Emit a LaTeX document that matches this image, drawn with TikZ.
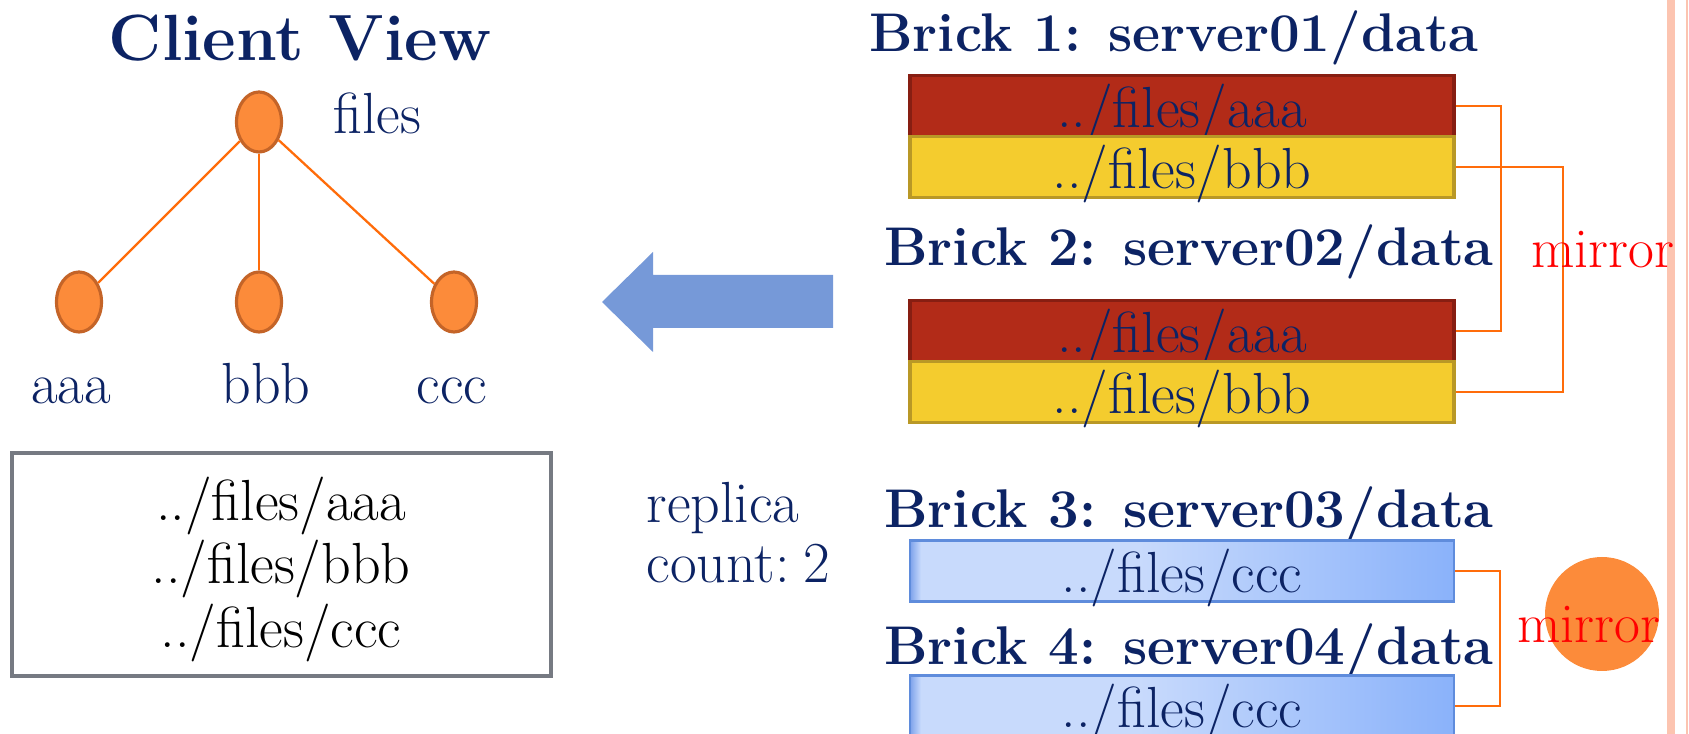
\documentclass[tikz,border=0pt]{standalone}
\usepackage{fontspec}
\usetikzlibrary{shapes.geometric}

\definecolor{navy}{RGB}{12,35,100}
\definecolor{wire}{RGB}{255,108,10}
\definecolor{leaffill}{RGB}{252,139,58}
\definecolor{leafline}{RGB}{196,100,40}
\definecolor{redfill}{RGB}{178,43,24}
\definecolor{redline}{RGB}{135,30,18}
\definecolor{yelfill}{RGB}{244,204,46}
\definecolor{yelline}{RGB}{185,152,38}
\definecolor{brickedge}{RGB}{125,162,235}
\definecolor{bricklight}{RGB}{200,218,252}
\definecolor{brickdark}{RGB}{138,178,250}
\definecolor{blueline}{RGB}{95,140,220}
\definecolor{arrowblue}{RGB}{118,153,216}
\definecolor{boxgray}{RGB}{118,122,130}
\definecolor{pinkbar}{RGB}{252,196,176}

\pgfdeclarehorizontalshading{brickshade}{100bp}{color(0bp)=(brickedge); color(25bp)=(brickedge); color(26bp)=(bricklight); color(46bp)=(bricklight); color(75bp)=(brickdark); color(100bp)=(brickdark)}

\newcommand{\txt}{\fontsize{16.5}{20}\selectfont}
\newcommand{\boldtxt}{\fontsize{15.5}{19}\selectfont\bfseries}

\begin{document}
\begin{tikzpicture}[
		leaf/.style={ellipse, draw=leafline, line width=0.9pt, fill=leaffill, minimum width=0.45cm, minimum height=0.6cm, inner sep=0pt},
		branch/.style={draw=wire, line width=0.65pt},
		brickbox/.style={rectangle, minimum width=5.44cm, minimum height=0.61cm, inner sep=0pt, text height=12pt, text depth=0pt, text=navy, font=\txt},
		redbox/.style={brickbox, fill=redfill, draw=redline, line width=1pt},
		yelbox/.style={brickbox, fill=yelfill, draw=yelline, line width=1pt},
		bluebox/.style={brickbox, shading=brickshade, draw=blueline, line width=0.7pt},
		bricklabel/.style={anchor=base, inner sep=0pt, text=navy, font=\boldtxt},
		plain/.style={anchor=base, inner sep=0pt, text=navy, font=\txt},
		mirrorline/.style={draw=wire, line width=0.7pt},
		mirrortext/.style={anchor=base, inner sep=0pt, text=red, font=\fontsize{16}{19}\selectfont}
	]
		\clip (0,0) rectangle (16.89,-7.34);
		
		% Page edge
		\fill[pinkbar] (16.67,0) rectangle (16.75,-7.34);
		\draw[pinkbar, line width=0.5pt] (16.87,0) -- (16.87,-7.34);
		
		% Client view tree
		\node[anchor=base, inner sep=0pt, text=navy, font=\fontsize{18.6}{22}\selectfont\bfseries] (title) at (3.00,-0.61) {Client View};
		\node[leaf] (files) at (2.59,-1.22) {};
		\node[leaf] (aaa) at (0.79,-3.02) {};
		\node[leaf] (bbb) at (2.59,-3.02) {};
		\node[leaf] (ccc) at (4.54,-3.02) {};
		\draw[branch] (files) -- (aaa);
		\draw[branch] (files) -- (bbb);
		\draw[branch] (files) -- (ccc);
		\node[plain] (fileslbl) at (3.77,-1.34) {files};
		\node[plain] (aaalbl) at (0.71,-4.04) {aaa};
		\node[plain] (bbblbl) at (2.66,-4.04) {bbb};
		\node[plain] (ccclbl) at (4.52,-4.04) {ccc};
		
		% Merged listing
		\node[draw=boxgray, line width=1.1pt, minimum width=5.39cm, minimum height=2.23cm] (view) at (2.815,-5.645) {};
		\node[anchor=base, inner sep=0pt, font=\txt] (pathA) at (2.81,-5.21) {../files/aaa};
		\node[anchor=base, inner sep=0pt, font=\txt] (pathB) at (2.81,-5.84) {../files/bbb};
		\node[anchor=base, inner sep=0pt, font=\txt] (pathC) at (2.81,-6.48) {../files/ccc};
		
		% Big arrow
		\fill[arrowblue] (6.02,-3.02) -- (6.53,-2.52) -- (6.53,-2.75) -- (8.33,-2.75) -- (8.33,-3.28) -- (6.53,-3.28) -- (6.53,-3.52) -- cycle;
		\node[plain, anchor=base west] (replica) at (6.46,-5.23) {replica};
		\node[plain, anchor=base west] (count) at (6.46,-5.82) {count:\hspace{4pt}2};
		
		% Bricks
		\node[bricklabel] (lbl1) at (11.74,-0.52) {Brick 1: server01/data};
		\node[redbox] (red1) at (11.82,-1.06) {../files/aaa};
		\node[yelbox] (yel1) at (11.82,-1.67) {../files/bbb};
		\node[bricklabel] (lbl2) at (11.89,-2.66) {Brick 2: server02/data};
		\node[redbox] (red2) at (11.82,-3.31) {../files/aaa};
		\node[yelbox] (yel2) at (11.82,-3.92) {../files/bbb};
		\node[bricklabel] (lbl3) at (11.89,-5.28) {Brick 3: server03/data};
		\node[bluebox] (blue3) at (11.82,-5.71) {../files/ccc};
		\node[bricklabel] (lbl4) at (11.89,-6.65) {Brick 4: server04/data};
		\node[bluebox] (blue4) at (11.82,-7.06) {../files/ccc};
		
		% Mirror pairs
		\draw[mirrorline] (red1.east) -- ++(0.45,0) |- (red2.east);
		\draw[mirrorline] (yel1.east) -- ++(1.07,0) |- (yel2.east);
		\draw[mirrorline] (blue3.east) -- ++(0.45,0) |- (blue4.east);
		\node[circle, fill=leaffill, minimum size=1.14cm, inner sep=0pt] (blob) at (16.02,-6.14) {};
		\node[mirrortext] (mirror1) at (16.03,-2.68) {mirror};
		\node[mirrortext] (mirror2) at (15.89,-6.43) {mirror};
	\end{tikzpicture}
\end{document}
